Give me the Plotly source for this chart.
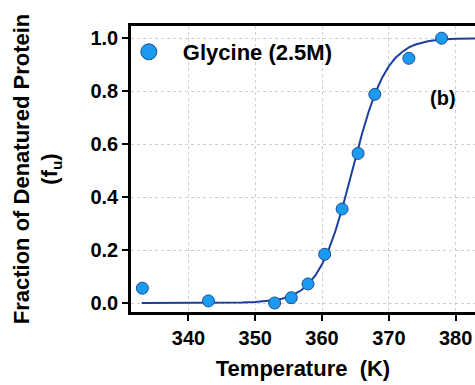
import plotly.graph_objects as go

# measured points
temp_k = [333.1, 343.0, 352.9, 355.4, 357.9, 360.4, 363.0, 365.4, 367.9, 373.0, 377.9]
frac_u = [0.056, 0.008, 0.000, 0.020, 0.072, 0.184, 0.355, 0.565, 0.788, 0.924, 1.000]

# fitted curve
fit_t = [333, 340, 345, 348, 350, 352, 353, 354, 355, 356, 357, 358, 359, 360, 361, 362,
         363, 364, 365, 366, 367, 368, 369, 370, 371, 372, 373, 374, 375, 376, 378, 380, 383]
fit_f = [0.000, 0.000, 0.001, 0.002, 0.004, 0.008, 0.011, 0.016, 0.024, 0.035, 0.050, 0.073,
         0.104, 0.146, 0.202, 0.272, 0.355, 0.449, 0.546, 0.640, 0.724, 0.795, 0.851, 0.894,
         0.926, 0.948, 0.965, 0.976, 0.983, 0.989, 0.995, 0.998, 0.999]

x_ticks = [340, 350, 360, 370, 380]
y_ticks = [0.0, 0.2, 0.4, 0.6, 0.8, 1.0]
series_name = "Glycine (2.5M)"

FONT = "Liberation Sans, Arial, sans-serif"
DOT = "#1a9af0"
EDGE = "#1d4f8f"
LINE = "#1b3f9c"

fig = go.Figure()
fig.add_trace(go.Scatter(x=fit_t, y=fit_f, mode="lines", line=dict(color=LINE, width=2),
                         showlegend=False, hoverinfo="skip"))
fig.add_trace(go.Scatter(x=temp_k, y=frac_u, mode="markers", showlegend=False,
                         marker=dict(size=12, color=DOT, line=dict(color=EDGE, width=1))))
fig.add_trace(go.Scatter(x=[None], y=[None], mode="markers", name="<b>" + series_name + "</b>",
                         marker=dict(size=16, color=DOT, line=dict(color=EDGE, width=1))))

fig.add_annotation(x=378.1, y=0.776, text="<b>(b)</b>", showarrow=False,
                   font=dict(size=20, color="black", family=FONT))

axis_common = dict(showline=True, linecolor="black", linewidth=2.5, ticks="outside",
                   ticklen=6, tickwidth=2, tickcolor="black", showgrid=True,
                   gridcolor="#cfcfcf", griddash="dot", gridwidth=1, zeroline=False,
                   tickfont=dict(size=20, color="black", family=FONT))

fig.update_xaxes(range=[331.4, 382.9], tickvals=x_ticks, ticktext=[f"<b>{v}</b>" for v in x_ticks],
                 mirror=True,
                 title=dict(text="<b>Temperature  (K)</b>", font=dict(size=22, color="black", family=FONT),
                            standoff=13),
                 **axis_common)
fig.update_yaxes(range=[-0.034, 1.046], tickvals=y_ticks, ticktext=[f"<b>{v:.1f}</b>" for v in y_ticks],
                 title=dict(text="<b>Fraction of Denatured Protein<br>(f<sub>u</sub>)</b>",
                            font=dict(size=22, color="black", family=FONT), standoff=27),
                 **axis_common)

fig.update_layout(width=475, height=385, margin=dict(l=131, r=0, t=26, b=73),
                  paper_bgcolor="white", plot_bgcolor="white",
                  font=dict(family=FONT, color="black"),
                  legend=dict(x=-0.047, y=0.9825, xanchor="left", yanchor="top", bgcolor="rgba(0,0,0,0)",
                              itemwidth=58, font=dict(size=22, color="black", family=FONT),
                              itemsizing="trace"))

fig.write_html("out.html", config={"displayModeBar": False},
               post_script="document.body.style.margin='0';document.body.style.overflow='hidden';")
